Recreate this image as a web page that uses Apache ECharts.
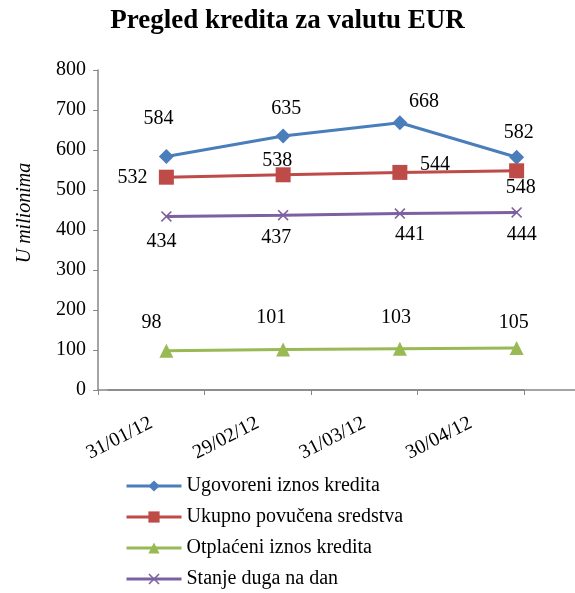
<!DOCTYPE html>
<html>
<head>
<meta charset="utf-8">
<script src="https://cdn.jsdelivr.net/npm/echarts@6/dist/echarts.min.js"></script>
<style>
  html, body { margin: 0; padding: 0; background: #fff; }
  #chart { width: 575px; height: 593px; }
</style>
</head>
<body>
<div id="chart"></div>
<script>
const dates = ['31/01/12', '29/02/12', '31/03/12', '30/04/12']
const ugovoreni = [584, 635, 668, 582]
const povucena = [532, 538, 544, 548]
const otplaceni = [98, 101, 103, 105]
const stanje = [434, 437, 441, 444]
const yTicks = [0, 100, 200, 300, 400, 500, 600, 700, 800]

// label placement like in the original Excel chart
const offBlue = [[-8, -38], [3, -27], [24, -21], [2, -24]]
const offRed = [[-34, 1], [-6, -14], [35, -8], [4, 17]]
const offGreen = [[-15, -28], [-12, -32], [-4, -31], [-3, -25]]
const offPurple = [[-5, 25], [-7, 23], [10, 21], [5, 22]]

const serif = 'Liberation Serif'
const axisColor = '#868686'
const crossPath = 'path://M0,1L1,0L5,4L9,0L10,1L6,5L10,9L9,10L5,6L1,10L0,9L4,5Z'

function withLabels(values, offsets) {
  return values.map((v, i) => ({
    value: v,
    label: { offset: offsets[i] },
  }))
}

function lineSeries(name, values, offsets, color, symbol, size) {
  return {
    name: name,
    type: 'line',
    xAxisIndex: 1,
    yAxisIndex: 1,
    data: withLabels(values, offsets),
    symbol: symbol,
    symbolSize: size,
    lineStyle: { color: color, width: 3 },
    itemStyle: { color: color },
    label: {
      show: true,
      position: 'inside',
      color: '#000',
      fontFamily: serif,
      fontSize: 20,
    },
    emphasis: { disabled: true },
    animation: false,
  }
}

let myChart = echarts.init(document.getElementById('chart'))
let option = {
  title: {
    text: 'Pregled kredita za valutu EUR',
    left: 'center',
    top: 3,
    textStyle: { fontFamily: serif, fontSize: 27, fontWeight: 'bold', color: '#000' },
  },
  legend: {
    orient: 'vertical',
    left: 125,
    top: 476,
    height: 117,
    padding: 0,
    itemWidth: 55,
    itemHeight: 14,
    itemGap: 11,
    lineStyle: { width: 3 },
    textStyle: { fontFamily: serif, fontSize: 20, color: '#000' },
    data: ['Ugovoreni iznos kredita', 'Ukupno povučena sredstva', 'Otplaćeni iznos kredita', 'Stanje duga na dan'],
  },
  grid: [
    { left: 98, top: 70, width: 426, height: 320 },
    { left: 108, right: 0, top: 70, height: 320 },
  ],
  xAxis: [
    {
      type: 'category',
      gridIndex: 0,
      data: dates,
      axisLine: { lineStyle: { color: axisColor, width: 1.5 } },
      axisTick: { show: true, length: 5, lineStyle: { color: axisColor } },
      axisLabel: { rotate: 27, margin: 32, color: '#000', fontFamily: serif, fontSize: 20 },
    },
    {
      type: 'category',
      gridIndex: 1,
      data: dates,
      axisLine: { lineStyle: { color: axisColor, width: 1.5 } },
      axisTick: { show: false },
      axisLabel: { show: false },
    },
  ],
  yAxis: [
    {
      type: 'value',
      gridIndex: 0,
      min: yTicks[0],
      max: yTicks[yTicks.length - 1],
      interval: 100,
      name: 'U milionima',
      nameLocation: 'middle',
      nameGap: 63,
      nameTextStyle: { fontFamily: serif, fontSize: 20, fontStyle: 'italic', color: '#000', padding: [0, 0, 0, 34] },
      axisLine: { show: true, lineStyle: { color: axisColor, width: 1.5 } },
      axisTick: { show: true, length: 5, lineStyle: { color: axisColor } },
      splitLine: { show: false },
      axisLabel: { margin: 12, color: '#000', fontFamily: serif, fontSize: 20 },
    },
    {
      type: 'value',
      gridIndex: 1,
      min: yTicks[0],
      max: yTicks[yTicks.length - 1],
      interval: 100,
      show: false,
      splitLine: { show: false },
    },
  ],
  series: [
    lineSeries('Ugovoreni iznos kredita', ugovoreni, offBlue, '#4A7EBB', 'diamond', 15),
    lineSeries('Ukupno povučena sredstva', povucena, offRed, '#BE4B48', 'rect', 15),
    lineSeries('Otplaćeni iznos kredita', otplaceni, offGreen, '#98B954', 'triangle', 14),
    lineSeries('Stanje duga na dan', stanje, offPurple, '#7D60A0', crossPath, 11),
  ],
}

option && myChart.setOption(option)
</script>
</body>
</html>
